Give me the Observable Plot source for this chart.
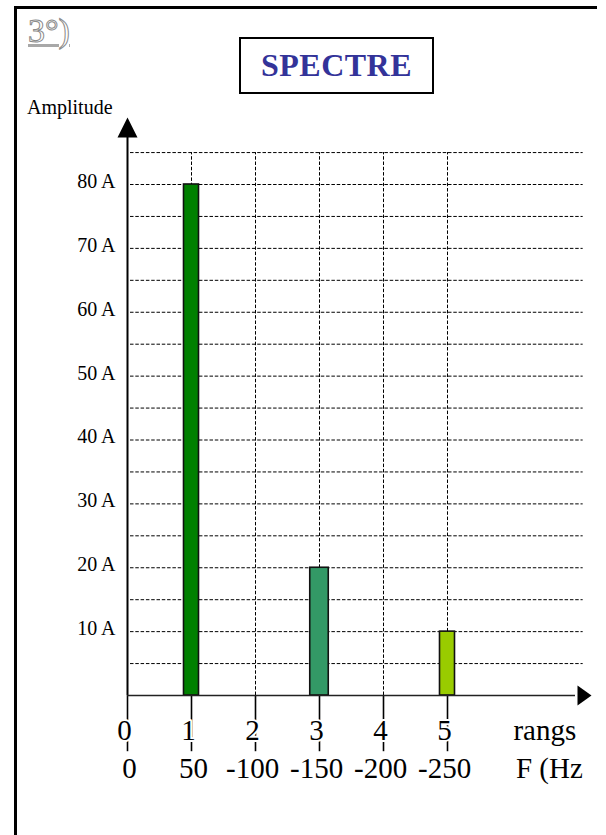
<!DOCTYPE html>
<html>
<head>
<meta charset="utf-8">
<script src="https://cdn.jsdelivr.net/npm/d3@7"></script>
<script src="https://cdn.jsdelivr.net/npm/@observablehq/plot@0.6"></script>
<style>
  html, body { margin: 0; padding: 0; background: #fff; }
  #page { position: relative; width: 606px; height: 835px; overflow: hidden; font-family: "Liberation Serif", "Times New Roman", serif; }
  #page svg { position: absolute; left: 0; top: 0; }
  .frame { position: absolute; left: 14px; top: 6px; width: 583px; height: 900px; border-left: 3px solid #000; border-top: 3px solid #000; box-sizing: border-box; }
  .num { position: absolute; left: 28px; top: 14px; font-size: 34px; line-height: 34px; color: #fff; -webkit-text-stroke: 1px #8a8a8a; text-decoration: underline; text-decoration-color: #a8a8a8; text-decoration-thickness: 3px; text-underline-offset: 2px; }
  .titlebox { position: absolute; left: 239px; top: 37px; width: 195px; height: 57px; border: 2.5px solid #000; box-sizing: border-box; text-align: center; font-weight: bold; font-size: 32px; line-height: 53px; color: #333399; letter-spacing: 0.5px; }
  .amp { position: absolute; left: 27px; top: 97px; font-size: 20px; line-height: 20px; color: #000; }
</style>
</head>
<body>
<div id="page">
  <div class="frame"></div>
  <div class="num">3°)</div>
  <div class="titlebox">SPECTRE</div>
  <div class="amp">Amplitude</div>
</div>
<script>
// ---- data ----
const harmonics = [1, 3, 5];
const amplitudes = [80, 20, 10];
const barColors = ["#008000", "#339966", "#99cc00"];
const rankTicks = [0, 1, 2, 3, 4, 5];
const rankLabels = ["0", "1", "2", "3", "4", "5"];
const freqLabels = ["0", "50", "-100", "-150", "-200", "-250"];
const yTickValues = [10, 20, 30, 40, 50, 60, 70, 80];
const yGridValues = [5, 10, 15, 20, 25, 30, 35, 40, 45, 50, 55, 60, 65, 70, 75, 80, 85];
const xGridValues = [1, 2, 3, 4, 5];

// ---- build ----
const pxPerUnit = 64;               // x scale: 64 px per rank
const barPx = {1: 15, 3: 18.5, 5: 15};
const bars = harmonics.map((k, i) => ({k, a: amplitudes[i]}));
const freq = freqLabels.map((t, i) => ({k: rankTicks[i], t}));

const upArrow = {draw(ctx) { ctx.moveTo(0, 0); ctx.lineTo(-10, 20); ctx.lineTo(10, 20); ctx.closePath(); }};
const rightArrow = {draw(ctx) { ctx.moveTo(0, 0); ctx.lineTo(-14, -10); ctx.lineTo(-14, 10); ctx.closePath(); }};

const dash = "3.5,1.8";
const serif = "Liberation Serif";
const labelSize = 29;
const digitPx = labelSize / 2;

const chart = Plot.plot({
  width: 606,
  height: 835,
  margin: 0,
  x: {type: "linear", domain: [0, 5], range: [127, 447], axis: null},
  y: {type: "linear", domain: [0, 80], range: [695, 184], axis: null},
  color: {type: "ordinal", domain: harmonics, range: barColors},
  style: {fontFamily: serif, background: "transparent", color: "#000"},
  marks: [
    // grid
    Plot.ruleY(yGridValues, {y: d => d, x1: 0.047, x2: 7.12, stroke: "#000", strokeWidth: 1, strokeDasharray: dash}),
    Plot.ruleX(xGridValues, {x: d => d, y1: 0, y2: 85, stroke: "#000", strokeWidth: 1, strokeDasharray: dash}),
    // ticks below x axis
    Plot.ruleX(rankTicks, {x: d => d, y1: 0, y2: -8.8, stroke: "#000", strokeWidth: 1.6}),
    // bars
    Plot.rect(bars, {
      x1: d => d.k - barPx[d.k] / 2 / pxPerUnit,
      x2: d => d.k + barPx[d.k] / 2 / pxPerUnit,
      y1: 0, y2: d => d.a,
      fill: d => d.k, stroke: "#111", strokeWidth: 1.6
    }),
    // axes
    Plot.ruleX([0], {x: d => d, y1: 0, y2: 88.2, stroke: "#000", strokeWidth: 2}),
    Plot.ruleY([0], {y: d => d, x1: 0, x2: 7.0, stroke: "#222", strokeWidth: 1.7}),
    Plot.dot([0], {x: 0, y: 90.5, symbol: upArrow, r: 5, fill: "#000", stroke: null}),
    Plot.dot([0], {x: 7.25, y: 0, symbol: rightArrow, r: 5, fill: "#000", stroke: null}),
    // y labels
    Plot.text(yTickValues, {x: 0, y: d => d, text: d => `${d} A`, textAnchor: "end", dx: -12, dy: -3, fontSize: 20, fill: "#000"}),
    // rank labels
    Plot.text(rankTicks, {x: d => d, y: 0, text: (d, i) => rankLabels[i], dx: -3, dy: 44, lineAnchor: "bottom", fontSize: labelSize, fill: "#000", stroke: "#fff", strokeWidth: 4, paintOrder: "stroke"}),
    Plot.text(["rangs"], {x: 6.03, y: 0, text: d => d, textAnchor: "start", dy: 44, lineAnchor: "bottom", fontSize: labelSize, fill: "#000"}),
    // frequency labels (digits centred on tick)
    Plot.text(freq, {x: d => d.k + (d.t.replace("-", "").length * digitPx / 2 + 2) / pxPerUnit, y: 0, text: d => d.t, textAnchor: "end", dy: 82, lineAnchor: "bottom", fontSize: labelSize, fill: "#000", stroke: "#fff", strokeWidth: 4, paintOrder: "stroke"}),
    Plot.text(["F (Hz"], {x: 6.07, y: 0, text: d => d, textAnchor: "start", dy: 82, lineAnchor: "bottom", fontSize: labelSize, fill: "#000"})
  ]
});
document.getElementById("page").prepend(chart);
</script>
</body>
</html>
